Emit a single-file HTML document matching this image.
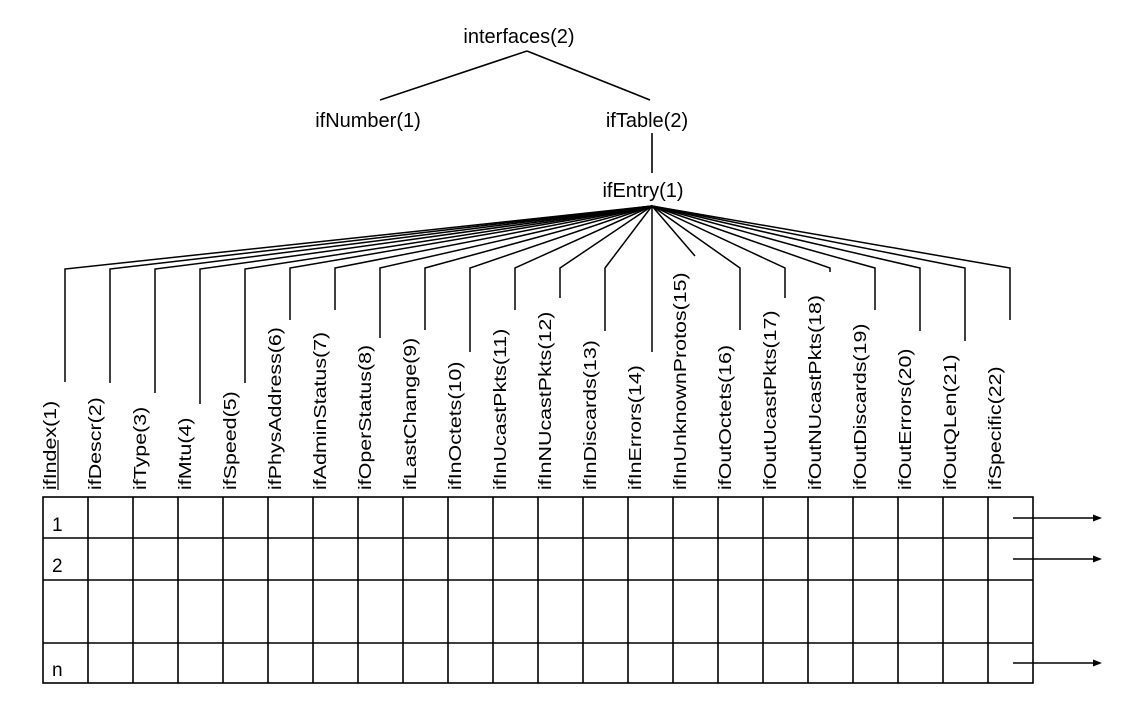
<!DOCTYPE html>
<html><head><meta charset="utf-8"><style>
html,body{margin:0;padding:0;background:#fff;}
svg{display:block;}
text{font-family:"Liberation Sans",sans-serif;fill:#000;}
</style></head><body>
<svg width="1131" height="704" viewBox="0 0 1131 704" xmlns="http://www.w3.org/2000/svg">
<g stroke="#000" stroke-width="1.6" fill="none">
<line x1="527" y1="51" x2="380" y2="100"/>
<line x1="527" y1="51" x2="650" y2="100"/>
<line x1="652" y1="133" x2="652" y2="173"/>
</g>
<g font-size="20" text-anchor="middle">
<text x="519" y="43">interfaces(2)</text>
<text x="368" y="127">ifNumber(1)</text>
<text x="647" y="127">ifTable(2)</text>
<text x="643" y="197">ifEntry(1)</text>
</g>
<g stroke="#000" stroke-width="1.5" fill="none">
<polyline points="652,206 65,269 65,382"/>
<polyline points="652,206 110,269 110,383"/>
<polyline points="652,206 155,269 155,393"/>
<polyline points="652,206 200,269 200,404"/>
<polyline points="652,206 245,269 245,383"/>
<polyline points="652,206 290,268 290,320"/>
<polyline points="652,206 335,268 335,310"/>
<polyline points="652,206 380,268 380,338"/>
<polyline points="652,206 425,268 425,330"/>
<polyline points="652,206 470,268 470,352"/>
<polyline points="652,206 515,268 515,310"/>
<polyline points="652,206 560,268 560,298"/>
<polyline points="652,206 605,268 605,331"/>
<polyline points="652,206 652,352"/>
<polyline points="652,206 695,256"/>
<polyline points="652,206 740,268 740,330"/>
<polyline points="652,206 785,268 785,298"/>
<polyline points="652,206 830,268 830,272"/>
<polyline points="652,206 875,268 875,310"/>
<polyline points="652,206 920,268 920,331"/>
<polyline points="652,206 965,268 965,341"/>
<polyline points="652,206 1010,268 1010,320"/>
</g>
<g font-size="18">
<text transform="translate(56,490) rotate(-90) scale(1.19,1)">ifIndex(1)</text>
<text transform="translate(101,490) rotate(-90) scale(1.19,1)">ifDescr(2)</text>
<text transform="translate(146,490) rotate(-90) scale(1.19,1)">ifType(3)</text>
<text transform="translate(191,490) rotate(-90) scale(1.19,1)">ifMtu(4)</text>
<text transform="translate(236,490) rotate(-90) scale(1.19,1)">ifSpeed(5)</text>
<text transform="translate(281,490) rotate(-90) scale(1.19,1)">ifPhysAddress(6)</text>
<text transform="translate(326,490) rotate(-90) scale(1.19,1)">ifAdminStatus(7)</text>
<text transform="translate(371,490) rotate(-90) scale(1.19,1)">ifOperStatus(8)</text>
<text transform="translate(416,490) rotate(-90) scale(1.19,1)">ifLastChange(9)</text>
<text transform="translate(461,490) rotate(-90) scale(1.19,1)">ifInOctets(10)</text>
<text transform="translate(506,490) rotate(-90) scale(1.19,1)">ifInUcastPkts(11)</text>
<text transform="translate(551,490) rotate(-90) scale(1.19,1)">ifInNUcastPkts(12)</text>
<text transform="translate(596,490) rotate(-90) scale(1.19,1)">ifInDiscards(13)</text>
<text transform="translate(641,490) rotate(-90) scale(1.19,1)">ifInErrors(14)</text>
<text transform="translate(686,490) rotate(-90) scale(1.19,1)">ifInUnknownProtos(15)</text>
<text transform="translate(731,490) rotate(-90) scale(1.19,1)">ifOutOctets(16)</text>
<text transform="translate(776,490) rotate(-90) scale(1.19,1)">ifOutUcastPkts(17)</text>
<text transform="translate(821,490) rotate(-90) scale(1.19,1)">ifOutNUcastPkts(18)</text>
<text transform="translate(866,490) rotate(-90) scale(1.19,1)">ifOutDiscards(19)</text>
<text transform="translate(911,490) rotate(-90) scale(1.19,1)">ifOutErrors(20)</text>
<text transform="translate(956,490) rotate(-90) scale(1.19,1)">ifOutQLen(21)</text>
<text transform="translate(1001,490) rotate(-90) scale(1.19,1)">ifSpecific(22)</text>
</g>
<g stroke="#000" stroke-width="1.6" fill="none">
<rect x="43" y="497" width="990" height="186"/>
<line x1="43" y1="538" x2="1033" y2="538"/>
<line x1="43" y1="580" x2="1033" y2="580"/>
<line x1="43" y1="643" x2="1033" y2="643"/>
<path d="M88 497V683M133 497V683M178 497V683M223 497V683M268 497V683M313 497V683M358 497V683M403 497V683M448 497V683M493 497V683M538 497V683M583 497V683M628 497V683M673 497V683M718 497V683M763 497V683M808 497V683M853 497V683M898 497V683M943 497V683M988 497V683"/>
<line x1="1013" y1="518" x2="1095" y2="518"/>
<line x1="1013" y1="559" x2="1095" y2="559"/>
<line x1="1013" y1="663" x2="1095" y2="663"/>
<line x1="58" y1="490" x2="58" y2="440" stroke-width="1.2"/>
</g>
<g fill="#000">
<polygon points="1102,518 1093,514.5 1093,521.5"/>
<polygon points="1102,559 1093,555.5 1093,562.5"/>
<polygon points="1102,663 1093,659.5 1093,666.5"/>
</g>
<g font-size="19">
<text x="52" y="531">1</text>
<text x="52" y="572">2</text>
<text x="52" y="676">n</text>
</g>
</svg>
</body></html>
